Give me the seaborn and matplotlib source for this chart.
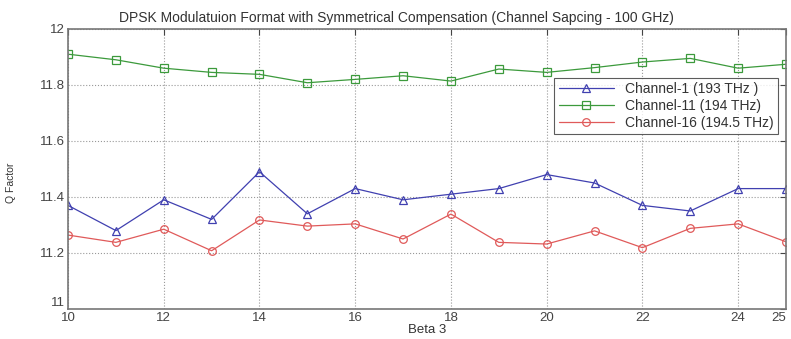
import seaborn as sb
import matplotlib.pyplot as plt
import pandas as pd

beta3 = list(range(10, 26))
ch1 = [11.37, 11.28, 11.39, 11.32, 11.49, 11.34, 11.43, 11.39,
       11.41, 11.43, 11.48, 11.45, 11.37, 11.35, 11.43, 11.43]
ch11 = [11.91, 11.89, 11.86, 11.845, 11.838, 11.808, 11.82, 11.833,
        11.814, 11.857, 11.845, 11.862, 11.882, 11.895, 11.86, 11.874]
ch16 = [11.264, 11.238, 11.285, 11.208, 11.318, 11.296, 11.304, 11.25,
        11.339, 11.238, 11.232, 11.279, 11.219, 11.288, 11.304, 11.24]
names = ['Channel-1 (193 THz )', 'Channel-11 (194 THz)', 'Channel-16 (194.5 THz)']

df = pd.DataFrame({'beta': beta3 * 3,
                   'q': ch1 + ch11 + ch16,
                   'ch': [names[0]] * 16 + [names[1]] * 16 + [names[2]] * 16})

sb.set_style('white')
plt.rcParams['font.family'] = ['Liberation Sans', 'DejaVu Sans']
fig = plt.figure(figsize=(7.91, 3.39), dpi=100)
ax = fig.add_axes([0.086, 0.0885, 0.9077, 0.826])

cols = ['#4040b0', '#3c9a3c', '#e05a5a']
mk = ['^', 's', 'o']
for n, c, m in zip(names, cols, mk):
    sb.lineplot(x='beta', y='q', data=df[df['ch'] == n], ax=ax, color=c,
                marker=m, markersize=5.5, markerfacecolor='none',
                markeredgecolor=c, markeredgewidth=0.9, linewidth=0.9, label=n)

ax.set_xlim(10, 25)
ax.set_ylim(11, 12)
ax.set_xticks([10, 12, 14, 16, 18, 20, 22, 24, 25])
ax.set_yticks([11, 11.2, 11.4, 11.6, 11.8, 12])
ax.set_yticklabels(['11', '11.2', '11.4', '11.6', '11.8', '12'])
ax.grid(True, linestyle=':', color='#999999', linewidth=0.8)
ax.tick_params(direction='in', top=True, right=True, labelsize=9.5, colors='#444444',
               length=4, pad=2)
ax.get_xticklabels()[-1].set_horizontalalignment('right')
ax.get_yticklabels()[0].set_verticalalignment('bottom')
for s in ax.spines.values():
    s.set_color('#777777')
    s.set_linewidth(1.2)

ax.set_title('DPSK Modulatuion Format with Symmetrical Compensation (Channel Sapcing - 100 GHz)',
             fontsize=10, color='#333333', pad=5, x=0.457)
ax.set_xlabel('Beta 3', fontsize=9.5, color='#333333', labelpad=0)
ax.set_ylabel('Q Factor', fontsize=7.5, color='#333333')
ax.yaxis.set_label_coords(-0.072, 0.45)

leg = ax.legend(loc='upper right', bbox_to_anchor=(0.989, 0.825), borderaxespad=0,
                fontsize=10, frameon=True, fancybox=False, edgecolor='#333333',
                handlelength=4, borderpad=0.3, labelspacing=0.2)
leg.get_frame().set_linewidth(0.8)
for t in leg.get_texts():
    t.set_color('#333333')

plt.savefig('out.png', dpi=100)
